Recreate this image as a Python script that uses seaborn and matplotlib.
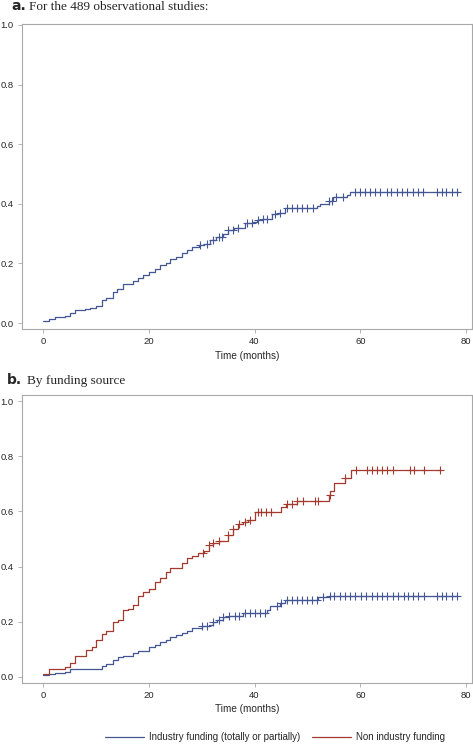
import numpy as np
import pandas as pd
import matplotlib
matplotlib.use("Agg")
import matplotlib.pyplot as plt
import seaborn as sns
from matplotlib.lines import Line2D

# Panel a: all 489 observational studies (cumulative proportion, step function)
a_times = [0, 1.2, 2.3, 4.2, 5.1, 6.0, 8.0, 8.9, 10.0, 11.1, 12.0, 13.2, 14.0, 15.2,
           17.0, 18.0, 19.0, 20.0, 21.2, 22.1, 23.2, 24.1, 25.2, 26.2, 27.2, 28.1,
           29.5, 30.4, 31.6, 32.8, 34.1, 35.0, 36.2, 38.2, 39.8, 40.4, 41.5, 43.3,
           44.5, 45.8, 51.9, 52.3, 54.0, 54.9, 57.4, 58.1]
a_values = [0.007, 0.015, 0.020, 0.025, 0.035, 0.043, 0.047, 0.050, 0.057, 0.077,
            0.085, 0.105, 0.114, 0.130, 0.140, 0.152, 0.160, 0.170, 0.180, 0.196,
            0.203, 0.215, 0.220, 0.234, 0.245, 0.256, 0.262, 0.266, 0.278, 0.290,
            0.300, 0.312, 0.318, 0.334, 0.340, 0.347, 0.350, 0.366, 0.370, 0.385,
            0.392, 0.400, 0.410, 0.422, 0.430, 0.4385]
a_end = 78.5
a_censor = [29.7, 31.0, 32.2, 33.2, 33.8, 35.05, 36.0, 36.9, 38.5, 39.5, 40.7, 41.7,
            42.3, 43.9, 44.8, 46.1, 47.0, 48.0, 48.9, 49.9, 51.1, 54.0, 54.6, 55.5,
            56.8, 59.0, 60.0, 60.9, 61.8, 62.8, 63.7, 65.0, 65.9, 66.9, 67.8, 68.8,
            70.0, 71.0, 71.9, 74.5, 75.4, 76.3, 77.3, 78.2]

# Panel b: industry funding
ind_times = [0, 1.1, 2.3, 4.2, 5.1, 11.1, 12.0, 13.2, 14.2, 15.2, 17.1, 18.0, 20.1,
             21.2, 22.1, 23.2, 24.1, 25.1, 26.2, 27.2, 28.1, 30.0, 31.3, 32.1, 32.9,
             34.1, 35.1, 37.9, 42.3, 42.9, 44.8, 45.8, 52.1, 54.0]
ind_values = [0.007, 0.011, 0.015, 0.019, 0.030, 0.040, 0.047, 0.062, 0.071, 0.077,
              0.085, 0.093, 0.107, 0.117, 0.125, 0.134, 0.143, 0.153, 0.161, 0.168,
              0.176, 0.183, 0.190, 0.198, 0.206, 0.216, 0.220, 0.230, 0.243, 0.257,
              0.267, 0.279, 0.289, 0.294]
ind_end = 78.5
ind_censor = [30.0, 31.1, 32.2, 33.2, 34.1, 35.2, 36.3, 37.1, 38.2, 39.1, 40.1, 41.0,
              42.0, 44.2, 45.1, 46.1, 47.0, 48.0, 48.9, 49.9, 50.8, 51.8, 53.0, 54.3,
              55.1, 56.2, 57.1, 58.1, 59.0, 60.1, 61.1, 62.2, 63.1, 64.1, 65.1, 66.1,
              67.1, 68.2, 69.1, 70.0, 71.0, 72.1, 74.5, 75.4, 76.3, 77.3, 78.2]

# Panel b: non industry funding
non_times = [0, 1.2, 4.2, 5.1, 6.05, 8.1, 9.2, 10.1, 11.1, 12.0, 13.2, 14.2, 15.2,
             16.1, 17.1, 18.0, 19.0, 20.1, 21.2, 22.1, 23.2, 24.1, 26.2, 27.2, 28.1,
             29.4, 30.45, 31.3, 32.2, 33.2, 35.0, 36.0, 36.9, 37.9, 38.8, 40.1, 45.1,
             46.0, 48.0, 54.0, 54.3, 55.1, 57.1, 58.2]
non_values = [0.011, 0.028, 0.035, 0.050, 0.077, 0.098, 0.110, 0.134, 0.156, 0.165,
              0.200, 0.206, 0.243, 0.248, 0.261, 0.293, 0.309, 0.317, 0.345, 0.360,
              0.379, 0.394, 0.414, 0.432, 0.438, 0.448, 0.458, 0.478, 0.487, 0.493,
              0.514, 0.535, 0.554, 0.560, 0.570, 0.597, 0.615, 0.627, 0.636, 0.660,
              0.675, 0.704, 0.720, 0.750]
non_end = 75.2
non_censor = [30.2, 31.3, 32.2, 33.2, 35.0, 36.0, 37.1, 38.2, 39.2, 40.6, 41.2, 42.2,
              43.1, 46.1, 47.0, 48.1, 49.1, 51.4, 52.1, 54.2, 57.1, 59.2, 61.2, 62.2,
              63.1, 64.1, 65.0, 66.1, 69.4, 70.1, 72.1, 75.1]

labels = ["Industry funding (totally or partially)", "Non industry funding"]
BLUE = "#445694"
RED = "#A23A2E"
FRAME = "#a8a8a8"

sns.set_style("white")
plt.rcParams["font.family"] = ["Liberation Sans", "DejaVu Sans"]


def draw_curve(ax, times, values, end, censor, color):
    df = pd.DataFrame({"t": list(times) + [end], "v": list(values) + [values[-1]]})
    sns.lineplot(data=df, x="t", y="v", ax=ax, color=color, lw=0.9,
                 drawstyle="steps-post", estimator=None)
    idx = np.searchsorted(times, censor, side="right") - 1
    cy = np.asarray(values)[idx]
    sns.scatterplot(x=censor, y=cy, ax=ax, marker="+", s=28, color=color,
                    linewidth=0.8)


def style_axes(ax, ylim):
    ax.set_xlim(-3.97, 81.13)
    ax.set_ylim(*ylim)
    ax.set_xticks([0, 20, 40, 60, 80])
    ax.set_yticks([0.0, 0.2, 0.4, 0.6, 0.8, 1.0])
    ax.set_yticklabels(["0.0", "0.2", "0.4", "0.6", "0.8", "1.0"])
    ax.tick_params(axis="both", labelsize=6.8, length=3, width=0.6, color=FRAME,
                   pad=3, direction="out", left=True, bottom=True)
    for s in ax.spines.values():
        s.set_color(FRAME)
        s.set_linewidth(0.8)
    ax.set_xlabel("Time (months)", fontsize=7.2, labelpad=3)
    ax.set_ylabel("")


fig = plt.figure(figsize=(4.73, 7.45), dpi=100)
ax_a = fig.add_axes([22 / 473, 1 - 329 / 745, 450 / 473, 305 / 745])
ax_b = fig.add_axes([22 / 473, 1 - 683 / 745, 450 / 473, 288 / 745])

draw_curve(ax_a, a_times, a_values, a_end, a_censor, BLUE)
style_axes(ax_a, (-0.02, 1.003))

draw_curve(ax_b, ind_times, ind_values, ind_end, ind_censor, BLUE)
draw_curve(ax_b, non_times, non_values, non_end, non_censor, RED)
style_axes(ax_b, (-0.022, 1.022))

# panel titles
fig.text(11 / 473, 1 - 10.5 / 745, "a.", fontsize=10, fontweight="bold",
         family="DejaVu Sans", va="baseline")
fig.text(29 / 473, 1 - 10.5 / 745, "For the 489 observational studies:", fontsize=9.5,
         family="Liberation Serif", va="baseline")
fig.text(7 / 473, 1 - 384 / 745, "b.", fontsize=10, fontweight="bold",
         family="DejaVu Sans", va="baseline")
fig.text(27 / 473, 1 - 384 / 745, "By funding source", fontsize=9.5,
         family="Liberation Serif", va="baseline")

handles = [Line2D([0], [0], color=BLUE, lw=0.9), Line2D([0], [0], color=RED, lw=0.9)]
fig.legend(handles, labels, loc="center", bbox_to_anchor=(275 / 473, 1 - 737 / 745),
           ncol=2, frameon=False, fontsize=7, handlelength=4, handletextpad=0.5,
           columnspacing=1.3)

fig.savefig("out.png", dpi=100)
